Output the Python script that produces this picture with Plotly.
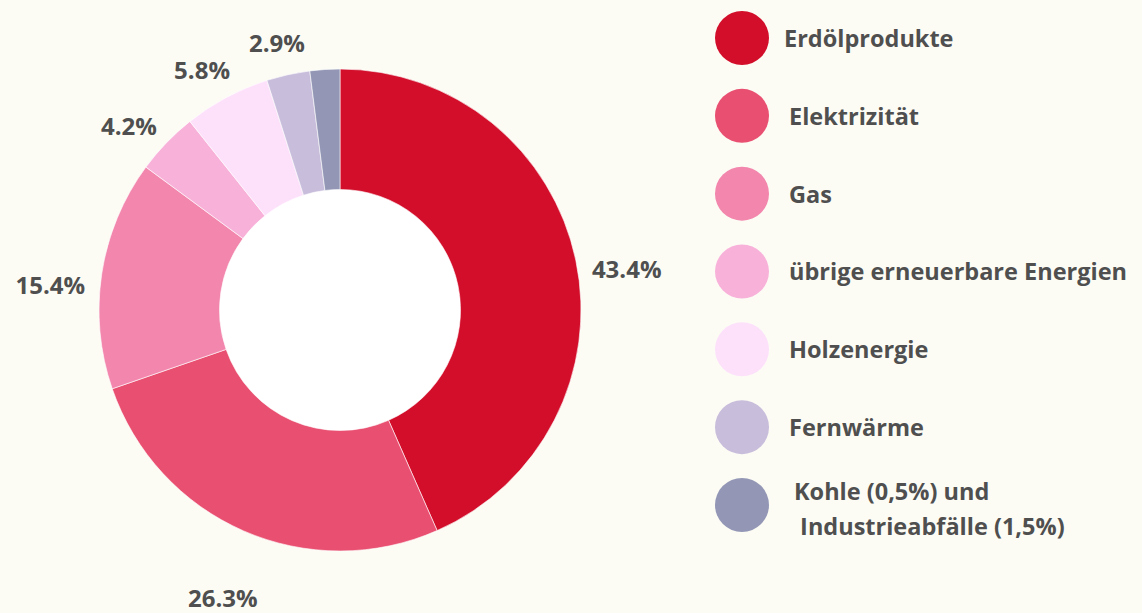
import plotly.graph_objects as go
import numpy as np

# ---- data ----
categories = ["Erdölprodukte", "Elektrizität", "Gas", "übrige erneuerbare Energien",
              "Holzenergie", "Fernwärme", "Kohle und Industrieabfälle"]
legend_labels = ["Erdölprodukte", "Elektrizität", "Gas", "übrige erneuerbare Energien",
                 "Holzenergie", "Fernwärme",
                 "Kohle (0,5%) und<br>\u00a0Industrieabfälle (1,5%)"]
shares = [43.4, 26.3, 15.4, 4.2, 5.8, 2.9, 2.0]
share_labels = ["43.4%", "26.3%", "15.4%", "4.2%", "5.8%", "2.9%", ""]
colors = ["#d20e2b", "#e94f70", "#f286ad", "#f8b2da", "#fde1fb", "#c8bddb", "#9397b5"]

W, H = 1142, 613
BG = "#fcfcf5"
TXT = "#4f4f4f"
FONT = "Open Sans"

# geometry (pixels)
cx, cy, R = 340, 310, 241
lcy = cy + 10     # label ring centre (slightly lower, as in the original)
RL = 293          # label polar radius extent
r_lab = 293       # label radius

def px_x(v): return v / W
def px_y(v): return 1 - v / H

fig = go.Figure()

fig.add_trace(go.Pie(
    labels=categories, values=shares, sort=False, direction="clockwise",
    rotation=0, hole=0.5, textinfo="none", showlegend=False,
    marker=dict(colors=colors, line=dict(color="rgba(255,255,255,0.6)", width=1)),
    domain=dict(x=[px_x(cx - R), px_x(cx + R)], y=[px_y(cy + R), px_y(cy - R)]),
))

# labels via polar scale
vals = np.array(shares)
mid = (np.cumsum(vals) - vals / 2) / vals.sum() * 360
fig.add_trace(go.Scatterpolar(
    r=[r_lab] * len(shares), theta=mid, mode="text", text=share_labels,
    textposition="bottom center", cliponaxis=False,
    textfont=dict(family=FONT, size=24, color=TXT, weight=700),
    showlegend=False, hoverinfo="skip",
))

# legend drawn as scatter
step = 77.8
idx = list(range(len(categories)))
fig.add_trace(go.Scatter(
    x=[742] * len(idx), y=idx, mode="markers",
    marker=dict(size=54, color=colors, line=dict(width=0)),
    showlegend=False, hoverinfo="skip", xaxis="x", yaxis="y",
))
# legend text: split multi-line labels into separate lines for wider line spacing
tx, ty, tt = [], [], []
for i, lab in enumerate(legend_labels):
    lines = lab.split("<br>")
    if len(lines) == 1:
        tx.append(784 if i == 0 else 789); ty.append(i + 3 / step); tt.append(lab)
    else:
        for j, ln in enumerate(lines):
            tx.append(794); ty.append(i + (-11 + 35 * j) / step); tt.append(ln)
fig.add_trace(go.Scatter(
    x=tx, y=ty, mode="text", text=tt, textposition="middle right",
    textfont=dict(family=FONT, size=23.5, color=TXT, weight=700),
    showlegend=False, hoverinfo="skip", xaxis="x", yaxis="y",
))

fig.update_layout(
    width=W, height=H,
    margin=dict(l=0, r=0, t=0, b=0),
    paper_bgcolor=BG, plot_bgcolor="rgba(0,0,0,0)",
    font=dict(family=FONT, color=TXT),
    polar=dict(
        domain=dict(x=[px_x(cx - RL), px_x(cx + RL)], y=[px_y(lcy + RL), px_y(lcy - RL)]),
        bgcolor="rgba(0,0,0,0)",
        radialaxis=dict(range=[0, RL], visible=False),
        angularaxis=dict(visible=False, rotation=90, direction="clockwise"),
    ),
    xaxis=dict(domain=[700 / W, 1], range=[700, W], visible=False, fixedrange=True),
    yaxis=dict(domain=[0, 1], range=[6 + (H - 505) / step, -38 / step], visible=False,
               fixedrange=True),
    shapes=[dict(type="circle", xref="paper", yref="paper", layer="below",
                 x0=px_x(cx - 121), x1=px_x(cx + 121), y0=px_y(cy + 121), y1=px_y(cy - 121),
                 fillcolor="#ffffff", line=dict(width=0))],
)

fig.write_html("out.html", config={"displayModeBar": False},
               post_script="document.body.style.margin='0';")
